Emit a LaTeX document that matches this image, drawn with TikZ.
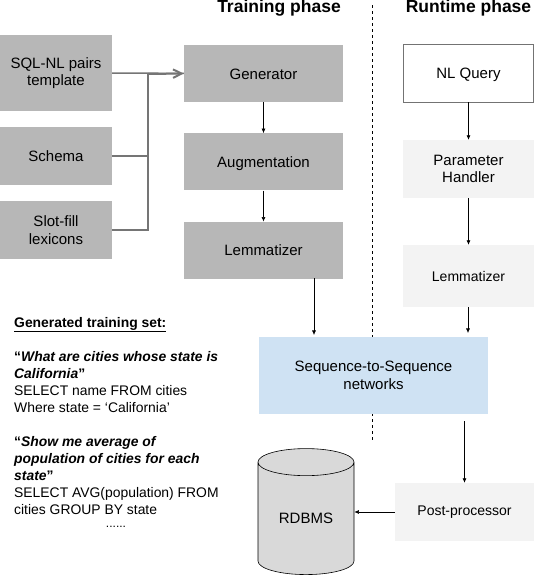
\documentclass[tikz,border=0pt]{standalone}
\usepackage{fontspec}
\setmainfont{Liberation Sans}
\usepackage{tikz}
\usetikzlibrary{arrows.meta,positioning,shapes.geometric}
\definecolor{inputgray}{HTML}{B7B7B7}
\definecolor{runtimegray}{HTML}{F3F3F3}
\definecolor{seqblue}{HTML}{CFE2F3}
\definecolor{dbgray}{HTML}{D9D9D9}
\definecolor{feedgray}{HTML}{757575}

\begin{document}
\begin{tikzpicture}[
  x=1pt,y=-1pt,
  every node/.style={font=\fontsize{15}{17.5}\selectfont},
  oneline/.style={text height=14pt,text depth=3pt},
  inputbox/.style={rectangle,fill=inputgray,align=center,minimum width=112pt,inner sep=0pt},
  trainbox/.style={rectangle,fill=inputgray,align=center,minimum width=159pt,minimum height=57pt,inner sep=0pt,oneline},
  runbox/.style={rectangle,fill=runtimegray,align=center,minimum width=131pt,inner sep=0pt},
  phase/.style={font=\fontsize{17.5}{20}\selectfont\bfseries},
  edge/.style={-{Latex[length=1.6mm,width=1.4mm]},semithick},
  feed/.style={feedgray,line width=1.5pt},
  divider/.style={dashed,semithick}]
\useasboundingbox (0,0) rectangle (536,576);
% phase divider runs behind the network box
\coordinate (divtop) at (372,5);
\coordinate (divbot) at (372,440);
\draw[divider] (divtop)--(divbot);
\node[phase] (train) at (279,8) {Training phase};
\node[phase] (run) at (468.5,8) {Runtime phase};
% inputs
\node[inputbox,minimum height=76pt] (pairs) at (56,73) {SQL-NL pairs\\template};
\node[inputbox,minimum height=58pt,oneline] (schema) at (56,156) {Schema};
\node[inputbox,minimum height=58pt] (slot) at (56,230) {Slot-fill\\lexicons};
% training phase
\node[trainbox] (gen) at (263.5,73.5) {Generator};
\node[trainbox,below=31pt of gen] (aug) {Augmentation};
\node[trainbox,below=31pt of aug] (lem) {Lemmatizer};
% runtime phase
\node[rectangle,draw=black!55,fill=white,align=center,minimum width=130pt,minimum height=58pt,inner sep=0pt,oneline] (query) at (468.5,73) {NL Query};
\node[runbox,minimum height=58pt] (param) at (468.5,169) {Parameter\\Handler};
\node[runbox,minimum height=62pt] (lem2) at (468.5,276) {\fontsize{14}{17}\selectfont Lemmatizer};
\node[rectangle,fill=seqblue,align=center,minimum width=229pt,minimum height=77pt,inner sep=0pt] (seq) at (373.5,375.5) {Sequence-to-Sequence\\networks};
\node[runbox,minimum width=139pt,minimum height=58pt] (post) at (464.5,512) {\fontsize{14}{17}\selectfont Post-processor};
\node[cylinder,shape border rotate=90,draw=black,fill=dbgray,aspect=0.5,minimum width=96pt,minimum height=126pt,inner sep=0pt,semithick] (db) at (306,518.5) {RDBMS};
% generated examples
\node[anchor=north west,align=left,inner sep=0pt,font=\fontsize{13.9}{17}\selectfont] (examples) at (14,317) {%
\underline{\textbf{Generated training set:}}\\[17pt]
\textbf{``\textit{What are cities whose state is}}\\
\textbf{\textit{California}''}\\
SELECT name FROM cities\\
Where state = `California'\\[17pt]
\textbf{``\textit{Show me average of}}\\
\textbf{\textit{population of cities for each}}\\
\textbf{\textit{state}''}\\
SELECT AVG(population) FROM\\
cities GROUP BY state};
\node[font=\fontsize{12}{14}\selectfont] (more) at (116,527) {......};
% connectors
\coordinate (hub) at (148,74);
\draw[feed] (pairs)--(gen);
\draw[feed] (schema.east)-|(hub);
\draw[feed] (slot.east)-|(hub);
\draw[feed,line width=2pt,-{Straight Barb[length=3mm,width=3mm]}] (hub)--(gen.west);
\draw[edge] (gen)--(aug);
\draw[edge] (aug)--(lem);
\coordinate (lemfoot) at (314,278);
\coordinate (lemseq) at (314,335);
\draw[edge] (lemfoot)--(lemseq);
\draw[edge] (query)--(param);
\draw[edge] (param)--(lem2);
\coordinate (runfoot) at (468,307);
\coordinate (runseq) at (468,333);
\draw[edge] (runfoot)--(runseq);
\coordinate (seqfoot) at (464.5,421);
\draw[edge] (seqfoot)--(post);
\draw[edge] (post.west)--(post.west-|db.east);
\end{tikzpicture}
\end{document}
